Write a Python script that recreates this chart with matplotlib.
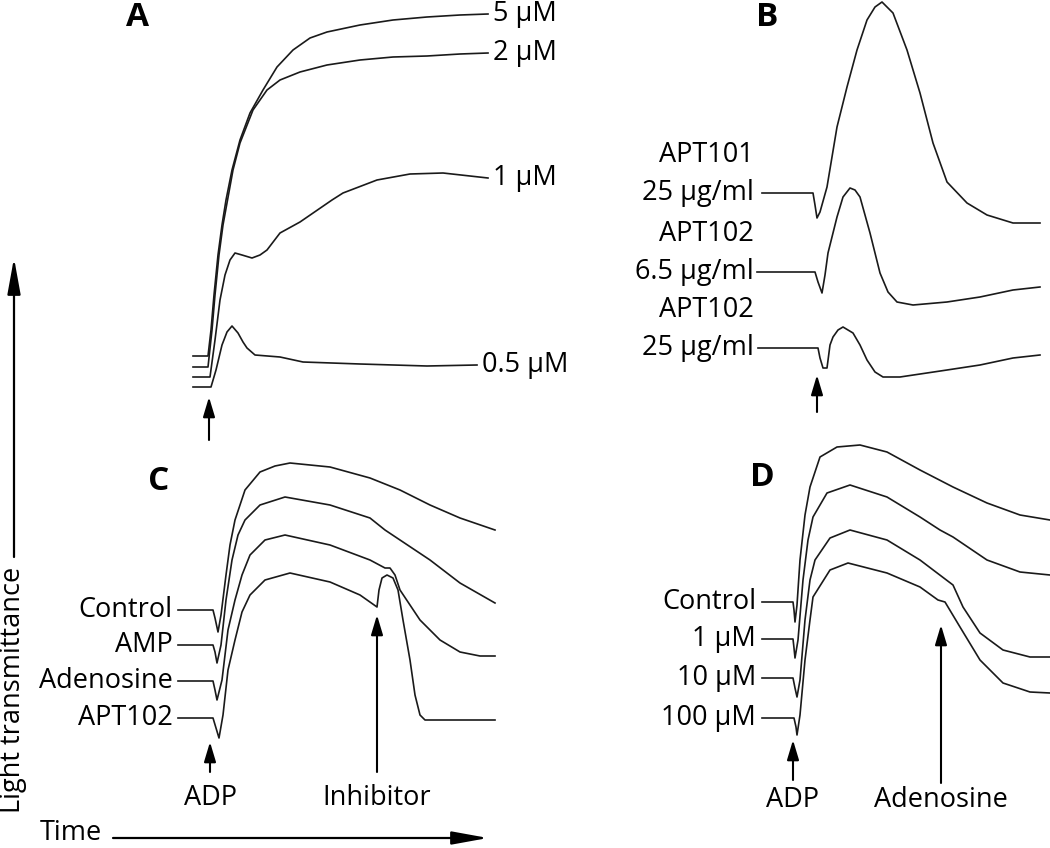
import matplotlib.pyplot as plt

plt.rcParams["font.family"] = ["Open Sans", "DejaVu Sans"]
plt.rcParams["font.size"] = 19.5

# ---- data: time (s) vs light transmittance (%) ----
# Panel A: ADP concentration series
a_labels = ["5 µM", "2 µM", "1 µM", "0.5 µM"]
a_t_5 = [3, 18, 21, 24, 28, 32, 36, 42, 50, 60, 73, 87, 103, 120, 137, 170, 203, 237, 270, 298]
a_y_5 = [11, 11, 17.5, 26.25, 36.25, 43.75, 50, 57.5, 65, 71.75, 77.5, 83.25, 87.5, 90.5, 92,
         93.75, 95, 95.75, 96.25, 96.5]
a_t_2 = [3, 18, 22, 25, 29, 33, 37, 43, 50, 63, 77, 90, 110, 137, 170, 203, 237, 270, 298]
a_y_2 = [8.25, 8.25, 17.5, 26.25, 36.25, 43.75, 49.25, 57.5, 64.25, 72.5, 77.5, 80, 82, 83.75,
         85, 85.75, 86, 86.5, 86.75]
a_t_1 = [3, 20, 25, 30, 35, 40, 45, 52, 62, 70, 77, 90, 110, 142, 153, 187, 220, 253, 298]
a_y_1 = [5.75, 5.75, 15, 25, 31.25, 35, 36.75, 36.25, 35.5, 36.25, 37.5, 41.75, 44.5, 50, 51.75,
         55, 56.5, 56.75, 55.5]
a_t_05 = [3, 21, 26, 32, 37, 42, 48, 53, 57, 65, 90, 113, 170, 237, 287]
a_y_05 = [3.25, 3.25, 7.5, 13.75, 17, 18.5, 16.75, 14.5, 13, 11.25, 10.75, 9.5, 9, 8.5, 8.75]
a_adp_time = 19

# Panel B: aptamers
b_names = ["APT101", "APT102", "APT102"]
b_doses = ["25 µg/ml", "6.5 µg/ml", "25 µg/ml"]
b_t_101 = [7, 58, 60, 62, 65, 72, 82, 92, 102, 112, 120, 127, 138, 152, 165, 178, 192, 212, 232,
           258, 285]
b_y_101 = [51.75, 51.75, 48.75, 45.5, 47, 53.25, 68.25, 78.25, 87.5, 95, 98.25, 99.5, 96.75, 87.5,
           76.75, 64.25, 54.5, 49.25, 46.25, 44.25, 44.25]
b_t_102lo = [2, 60, 63, 67, 70, 73, 82, 88, 95, 100, 105, 115, 125, 133, 142, 158, 192, 225, 258, 285]
b_y_102lo = [32, 32, 29.5, 26.75, 31.25, 36.75, 45.75, 50.75, 53, 52.5, 50.75, 41.75, 31.75, 27,
             24.5, 23.75, 24.5, 25.75, 27.5, 28.25]
b_t_102hi = [3, 63, 65, 68, 72, 75, 78, 83, 88, 98, 105, 112, 120, 128, 145, 192, 225, 258, 285]
b_y_102hi = [13, 13, 10.5, 8, 8, 13.75, 15.75, 17.5, 18.25, 16.75, 13.75, 10, 7, 5.75, 5.75, 7.5,
             8.75, 10.5, 11.25]
b_adp_time = 62

# Panel C: inhibitor added after ADP
c_labels = ["Control", "AMP", "Adenosine", "APT102"]
c_t_ctrl = [3, 38, 40, 43, 46, 51, 55, 60, 70, 85, 100, 115, 155, 195, 225, 255, 285, 320]
c_y_ctrl = [35, 35, 33, 29.5, 33.75, 43.75, 51.25, 57.5, 65, 69.5, 71, 71.75, 70.75, 68, 65, 61.25,
            58, 55]
c_t_amp = [3, 38, 40, 42, 46, 51, 57, 63, 70, 85, 110, 155, 195, 210, 225, 255, 285, 320]
c_y_amp = [26.25, 26.25, 24.5, 21.75, 26.25, 37.5, 47.5, 53.75, 57.5, 61.25, 63.25, 61.25, 58, 55,
           52.5, 47.5, 41.75, 36.75]
c_t_ado = [3, 38, 40, 42, 47, 53, 60, 67, 75, 90, 110, 155, 195, 210, 215, 220, 225, 245, 265, 285,
           305, 320]
c_y_ado = [17.25, 17.25, 15, 12.5, 17.5, 30, 37.5, 43.75, 48.75, 52.5, 53.75, 51.25, 47.5, 45.5,
           45.5, 43.75, 40, 32.5, 27.5, 24.5, 23.5, 23.5]
c_t_apt = [3, 38, 41, 44, 48, 53, 60, 67, 75, 90, 115, 155, 185, 202, 204, 207, 212, 218, 223, 228,
           235, 240, 245, 250, 265, 320]
c_y_apt = [8, 8, 5.5, 3, 8.75, 20, 27.5, 34.5, 38.75, 42.5, 44.25, 42, 38.75, 35.75, 40, 43, 43.75,
           43, 40, 32.5, 22.5, 13.75, 8.75, 7.5, 7.5, 7.5]
c_adp_time = 35
c_inh_time = 202

# Panel D: adenosine concentration series
d_labels = ["Control", "1 µM", "10 µM", "100 µM"]
d_t_ctrl = [2, 33, 34, 35, 37, 40, 45, 50, 60, 77, 100, 127, 160, 193, 227, 260, 290]
d_y_ctrl = [37, 37, 35, 32, 36.25, 47.5, 58.75, 65.75, 73.25, 75.75, 76.25, 74.5, 70, 65.75, 61.75,
            58.75, 57.5]
d_t_1 = [2, 33, 34, 35, 38, 43, 48, 53, 67, 90, 127, 160, 180, 193, 227, 260, 290]
d_y_1 = [27.75, 27.75, 25.5, 23, 27.5, 42.5, 52.5, 58.25, 64.25, 66.25, 63.25, 58.25, 55, 53.25,
         47.5, 44.5, 43.75]
d_t_10 = [2, 33, 35, 37, 40, 45, 50, 55, 70, 90, 127, 160, 193, 203, 220, 243, 270, 290]
d_y_10 = [18, 18, 15.5, 13.25, 17.5, 32.5, 42.5, 47.5, 53, 55, 52.5, 47.5, 41.25, 35.75, 29.25, 25,
          23.25, 23.25]
d_t_100 = [2, 34, 36, 37, 40, 45, 50, 53, 70, 88, 127, 160, 178, 185, 200, 220, 243, 270, 290]
d_y_100 = [8, 8, 5.75, 3.75, 8.75, 22.5, 32.5, 38.25, 45, 46.75, 44.25, 40.75, 37.5, 37, 30.75,
           22.5, 16.75, 14.5, 14.25]
d_adp_time = 33
d_ado_time = 181

# ---- figure ----
W, H = 1050, 848
fig = plt.figure(figsize=(W / 100, H / 100), dpi=100)

TRACE = dict(color="#1a1a1a", lw=1.2, clip_on=False, solid_joinstyle="round")


def small_arrow(ax, x, tip, tail):
    ax.annotate("", xy=(x, tip), xytext=(x, tail), annotation_clip=False,
                arrowprops=dict(arrowstyle="-|>,head_length=0.6,head_width=0.18",
                                mutation_scale=20, color="black", lw=1.5,
                                shrinkA=0, shrinkB=0))


def panel(x0, y0, w, h, ymax):
    ax = fig.add_axes([x0 / W, 1 - (y0 + h) / H, w / W, h / H])
    ax.set_xlim(0, w)
    ax.set_ylim(0, ymax)
    ax.axis("off")
    return ax


# overlay for the shared axis arrows and panel letters (pixel layout)
bg = fig.add_axes([0, 0, 1, 1])
bg.set_xlim(0, W)
bg.set_ylim(H, 0)
bg.axis("off")
big = dict(arrowstyle="-|>,head_length=1.1,head_width=0.2", mutation_scale=20,
           color="black", lw=1.6, shrinkA=0, shrinkB=0)
bg.annotate("", xy=(14, 258), xytext=(14, 557), arrowprops=big)
bg.text(13, 690, "Light transmittance", rotation=90, ha="center", va="center")
bg.text(40, 847, "Time", ha="left", va="bottom")
bg.annotate("", xy=(488, 838), xytext=(113, 838), arrowprops=big)
for letter, (lx, ly) in zip("ABCD", [(137, 18), (767, 18), (159, 482), (762, 478)]):
    bg.text(lx, ly, letter, fontsize=24, fontweight="bold", ha="center", va="center")

# Panel A
ax = panel(190, 0, 310, 400, 100)
for lab, t, y in zip(a_labels, [a_t_5, a_t_2, a_t_1, a_t_05], [a_y_5, a_y_2, a_y_1, a_y_05]):
    ax.plot(t, y, **TRACE)
    ax.text(t[-1] + 5, y[-1], lab, ha="left", va="center")
small_arrow(ax, a_adp_time, 0.75, -10)

# Panel B
ax = panel(755, 0, 295, 400, 100)
for name, dose, t, y in zip(b_names, b_doses, [b_t_101, b_t_102lo, b_t_102hi],
                            [b_y_101, b_y_102lo, b_y_102hi]):
    ax.plot(t, y, **TRACE)
    ax.text(-1, y[0] + 9.5, name, ha="right", va="center")
    ax.text(-1, y[0], dose, ha="right", va="center")
small_arrow(ax, b_adp_time, 6.25, -3)

# Panel C
ax = panel(175, 430, 325, 320, 80)
for lab, t, y in zip(c_labels, [c_t_ctrl, c_t_amp, c_t_ado, c_t_apt],
                     [c_y_ctrl, c_y_amp, c_y_ado, c_y_apt]):
    ax.plot(t, y, **TRACE)
    ax.text(-2, y[0], lab, ha="right", va="center")
small_arrow(ax, c_adp_time, 2, -5.5)
small_arrow(ax, c_inh_time, 33.75, -5.5)
ax.text(c_adp_time, -12, "ADP", ha="center", va="center")
ax.text(c_inh_time, -12, "Inhibitor", ha="center", va="center")

# Panel D
ax = panel(760, 430, 290, 320, 80)
for lab, t, y in zip(d_labels, [d_t_ctrl, d_t_1, d_t_10, d_t_100],
                     [d_y_ctrl, d_y_1, d_y_10, d_y_100]):
    ax.plot(t, y, **TRACE)
    ax.text(-4, y[0], lab, ha="right", va="center")
small_arrow(ax, d_adp_time, 2.5, -7.5)
small_arrow(ax, d_ado_time, 31.25, -8.25)
ax.text(d_adp_time, -12.5, "ADP", ha="center", va="center")
ax.text(d_ado_time, -12.5, "Adenosine", ha="center", va="center")

fig.savefig("out.png", dpi=100)
